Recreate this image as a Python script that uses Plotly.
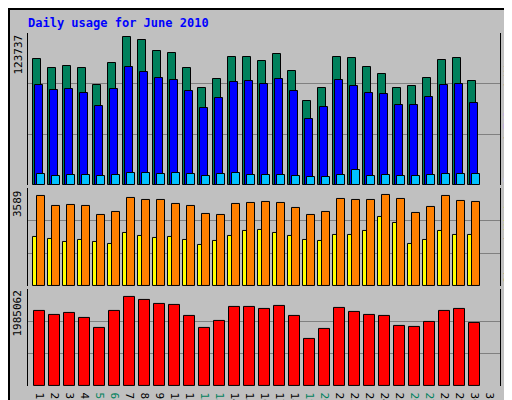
import plotly.graph_objects as go

days = list(range(1, 31))
hits = [105261, 97703, 99383, 97703, 83425, 101902, 123737, 121218, 111980, 110300,
        97703, 80905, 88464, 106941, 106941, 103581, 109460, 95183, 69988, 80905,
        106941, 106101, 98543, 92664, 80905, 82585, 89304, 104421, 106101, 86784]
files = [83425, 79226, 80066, 76706, 65788, 80066, 98543, 94343, 89304, 87624,
         78386, 64108, 72507, 85944, 86784, 84265, 88464, 78386, 54870, 64948,
         87624, 82585, 76706, 75866, 66628, 66628, 73347, 83425, 84265, 68308]
pages = [9518, 7839, 8678, 8678, 7839, 8678, 10358, 10358, 9518, 10358,
         9518, 7839, 9518, 10358, 8678, 8678, 8678, 7839, 6999, 6999,
         8678, 12877, 7839, 8678, 7839, 7839, 8678, 9518, 9518, 9518]
visits = [3550, 3160, 3199, 3160, 2809, 2926, 3472, 3394, 3394, 3238,
          3160, 2848, 2809, 3238, 3277, 3316, 3277, 3082, 2809, 2926,
          3433, 3394, 3394, 3589, 3433, 2887, 3121, 3550, 3355, 3316]
sites = [1951, 1873, 1756, 1834, 1756, 1678, 2107, 1990, 1912, 1951,
         1834, 1600, 1795, 1990, 2185, 2224, 2107, 1990, 1834, 1795,
         2029, 2029, 2185, 2731, 2497, 1639, 1834, 2185, 2029, 2029]
kbytes = [1659026, 1572091, 1615558, 1506890, 1289553, 1659026, 1985062, 1898127, 1811193, 1789459,
          1550357, 1289553, 1441689, 1745992, 1745992, 1702525, 1767726, 1550357, 1050482, 1267820,
          1724259, 1637292, 1572091, 1550357, 1333020, 1311286, 1419955, 1659026, 1702525, 1398221]
tick_labels = [str(d) for d in range(1, 32)]
weekend = {5, 6, 12, 13, 19, 20, 26, 27}

MONO = "DejaVu Sans Mono"
GREEN = "#00805C"
BG = "#C0C0C0"

fig = go.Figure()

def bars(y, color, left, right, axis):
    fig.add_trace(go.Bar(x=days, y=y, width=right - left, offset=left,
                         marker=dict(color=color, line=dict(color="black", width=1)),
                         xaxis="x", yaxis=axis, showlegend=False))

bars(hits, GREEN, -0.51, -0.02, "y")
bars(files, "#0000FF", -0.40, 0.11, "y")
bars(pages, "#00C0FF", -0.27, 0.25, "y")
bars(sites, "#FFFF00", -0.51, -0.22, "y2")
bars(visits, "#FF8000", -0.25, 0.25, "y2")
bars(kbytes, "#FF0000", -0.44, 0.25, "y3")

ticktext = [f'<span style="color:{GREEN}">{t}</span>' if int(t) in weekend else t
            for t in tick_labels]

def yax(full, domain):
    return dict(domain=domain, range=[0, full], tickvals=[full / 3, 2 * full / 3],
                showticklabels=False, ticks="", gridcolor="#808080", gridwidth=1,
                showline=True, mirror=True, linecolor="black", zeroline=False,
                anchor="x", fixedrange=True)

hmax = max(hits) * 453 / 442
vmax = max(visits) * 297 / 276
kmax = max(kbytes) * 297 / 274

fig.update_layout(
    width=512, height=400, paper_bgcolor=BG, plot_bgcolor=BG,
    margin=dict(l=20, r=20, t=25, b=22, autoexpand=False), barmode="overlay", bargap=0,
    font=dict(family=MONO, size=11, color="black"),
    xaxis=dict(range=[0.133, 31.6], tickvals=list(range(1, 32)), ticktext=ticktext,
               anchor="y3", ticks="", showgrid=False, showline=False,
               tickfont=dict(family=MONO, size=11), fixedrange=True),
    yaxis=yax(hmax, [0.569, 1]),
    yaxis2=yax(vmax, [0.283, 0.561]),
    yaxis3=yax(kmax, [0, 0.275]),
)

anns = [
    dict(text="<b>Daily usage for June 2010</b>", x=-2 / 472, y=1 + 10 / 353, xanchor="left",
         yanchor="middle", font=dict(color="#0000FF", size=12, family=MONO)),
    dict(text=str(max(hits)), x=-0.004, y=1, xanchor="right", yanchor="top", textangle=-90,
         font=dict(size=11, family=MONO)),
    dict(text=str(max(visits)), x=-0.004, y=0.561, xanchor="right", yanchor="top", textangle=-90,
         font=dict(size=11, family=MONO)),
    dict(text=str(max(kbytes)), x=-0.004, y=0.275, xanchor="right", yanchor="top", textangle=-90,
         font=dict(size=11, family=MONO)),
    dict(text='<span style="color:#00C0FF">Pages</span> / <span style="color:#0000FF">Files</span>'
              f' / <span style="color:{GREEN}">Hits</span>',
         x=1 + 9 / 472, y=0.569, xanchor="center", yanchor="bottom", textangle=-90,
         font=dict(size=11, family=MONO)),
    dict(text='<span style="color:#FF8000">Sites</span> / <span style="color:#FFFF00">Visits</span>',
         x=1 + 9 / 472, y=0.283, xanchor="center", yanchor="bottom", textangle=-90,
         font=dict(size=11, family=MONO)),
    dict(text='<span style="color:#FF0000">KBytes</span>',
         x=1 + 9 / 472, y=0.0, xanchor="center", yanchor="bottom", textangle=-90,
         font=dict(size=11, family=MONO)),
]
for a in anns:
    a.update(xref="paper", yref="paper", showarrow=False)
fig.update_layout(annotations=anns)

fig.update_layout(shapes=[
    dict(type="rect", xref="paper", yref="paper", x0=-19 / 472, x1=1 + 19 / 472,
         y0=-21 / 353, y1=1 + 24 / 353, line=dict(color="black", width=2)),
])

fig.write_html("out.html")
